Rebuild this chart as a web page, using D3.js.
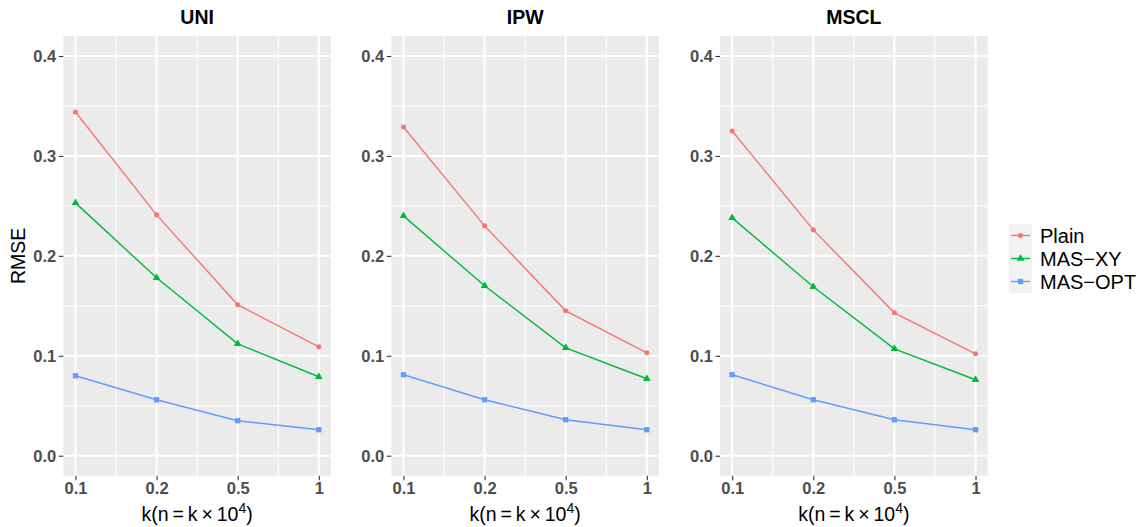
<!DOCTYPE html>
<html>
<head>
<meta charset="utf-8">
<script src="https://cdn.jsdelivr.net/npm/d3@7"></script>
<style>
  html, body { margin: 0; padding: 0; background: #ffffff; }
  svg { display: block; font-family: "Liberation Sans", Arial, Helvetica, sans-serif; }
</style>
</head>
<body>
<svg id="chart" width="1141" height="527"></svg>
<script>
// ---- data ----
const kLabels = ["0.1", "0.2", "0.5", "1"];
const panelTitles = ["UNI", "IPW", "MSCL"];
const seriesNames = ["Plain", "MAS\u2212XY", "MAS\u2212OPT"];
const seriesColors = ["#F8766D", "#00BA38", "#619CFF"];
const yTicks = [0.0, 0.1, 0.2, 0.3, 0.4];

const uniPlain  = [0.344, 0.241, 0.151, 0.109];
const uniMasXY  = [0.253, 0.178, 0.112, 0.079];
const uniMasOpt = [0.080, 0.056, 0.035, 0.026];

const ipwPlain  = [0.329, 0.230, 0.145, 0.103];
const ipwMasXY  = [0.240, 0.170, 0.108, 0.077];
const ipwMasOpt = [0.081, 0.056, 0.036, 0.026];

const msclPlain  = [0.325, 0.226, 0.143, 0.102];
const msclMasXY  = [0.238, 0.169, 0.107, 0.076];
const msclMasOpt = [0.081, 0.056, 0.036, 0.026];

const panelData = [
  [uniPlain, uniMasXY, uniMasOpt],
  [ipwPlain, ipwMasXY, ipwMasOpt],
  [msclPlain, msclMasXY, msclMasOpt]
];

// ---- layout ----
const svg = d3.select("#chart");
const panelLefts = [63.3, 391.3, 720];
const panelW = 267.7;
const panelTop = 36, panelBottom = 475.7;
const symbolTypes = [d3.symbolCircle, d3.symbolTriangle, d3.symbolSquare];
const symbolSizes = [20, 26, 28];

panelTitles.forEach((title, p) => {
  const left = panelLefts[p];
  const g = svg.append("g");
  const x = d3.scaleLinear().domain([0.85, 4.15]).range([left, left + panelW]);
  const y = d3.scaleLinear().domain([-0.02, 0.42]).range([panelBottom, panelTop]);

  g.append("rect").attr("x", left).attr("y", panelTop)
    .attr("width", panelW).attr("height", panelBottom - panelTop)
    .attr("fill", "#EBEBEB");

  const yMinor = [0.05, 0.15, 0.25, 0.35];
  const xMinor = [1.5, 2.5, 3.5];
  g.selectAll(".ymin").data(yMinor).join("line")
    .attr("x1", left).attr("x2", left + panelW)
    .attr("y1", d => y(d)).attr("y2", d => y(d))
    .attr("stroke", "#ffffff").attr("stroke-width", 1);
  g.selectAll(".xmin").data(xMinor).join("line")
    .attr("y1", panelTop).attr("y2", panelBottom)
    .attr("x1", d => x(d)).attr("x2", d => x(d))
    .attr("stroke", "#ffffff").attr("stroke-width", 1);
  g.selectAll(".ymaj").data(yTicks).join("line")
    .attr("x1", left).attr("x2", left + panelW)
    .attr("y1", d => y(d)).attr("y2", d => y(d))
    .attr("stroke", "#ffffff").attr("stroke-width", 2);
  g.selectAll(".xmaj").data(kLabels).join("line")
    .attr("y1", panelTop).attr("y2", panelBottom)
    .attr("x1", (d, i) => x(i + 1)).attr("x2", (d, i) => x(i + 1))
    .attr("stroke", "#ffffff").attr("stroke-width", 2);

  const yAxis = d3.axisLeft(y).tickValues(yTicks).tickFormat(d3.format(".1f"))
    .tickSize(4.5).tickPadding(2.5);
  const ya = g.append("g").attr("transform", `translate(${left},0)`).call(yAxis);
  ya.select(".domain").remove();
  ya.selectAll(".tick line").attr("stroke", "#333333").attr("stroke-width", 1.1);
  ya.selectAll(".tick text").attr("fill", "#4D4D4D").attr("font-size", "16.5px")
    .attr("font-weight", "bold").attr("font-family", "Liberation Sans, Arial, sans-serif")
    .attr("dy", "0.36em");

  const xAxis = d3.axisBottom(x).tickValues([1, 2, 3, 4])
    .tickFormat(d => kLabels[d - 1]).tickSize(4.5).tickPadding(2.5);
  const xa = g.append("g").attr("transform", `translate(0,${panelBottom})`).call(xAxis);
  xa.select(".domain").remove();
  xa.selectAll(".tick line").attr("stroke", "#333333").attr("stroke-width", 1.1);
  xa.selectAll(".tick text").attr("fill", "#4D4D4D").attr("font-size", "16.5px")
    .attr("font-weight", "bold").attr("font-family", "Liberation Sans, Arial, sans-serif")
    .attr("dy", "0.7em");

  const line = d3.line().x((d, i) => x(i + 1)).y(d => y(d));
  panelData[p].forEach((vals, s) => {
    g.append("path").datum(vals).attr("d", line)
      .attr("fill", "none").attr("stroke", seriesColors[s]).attr("stroke-width", 1.4);
    g.selectAll(".pt" + s).data(vals).join("path")
      .attr("transform", (d, i) => `translate(${x(i + 1)},${y(d)})`)
      .attr("d", d3.symbol().type(symbolTypes[s]).size(symbolSizes[s]))
      .attr("fill", seriesColors[s]);
  });

  svg.append("text").attr("x", left + panelW / 2).attr("y", 24)
    .attr("text-anchor", "middle").attr("font-size", "19.5px").attr("font-weight", "bold")
    .attr("fill", "#000000").text(title);

  const xt = svg.append("text").attr("x", left + panelW / 2).attr("y", 521)
    .attr("text-anchor", "middle").attr("font-size", "19.5px").attr("fill", "#000000");
  xt.append("tspan").text("k(n\u2009=\u2009k\u2009\u00D7\u200910");
  xt.append("tspan").attr("font-size", "14px").attr("dy", "-8").text("4");
  xt.append("tspan").attr("dy", "8").text(")");
});

// y axis title
svg.append("text")
  .attr("transform", `translate(25,${(panelTop + panelBottom) / 2}) rotate(-90)`)
  .attr("text-anchor", "middle").attr("font-size", "19.5px").attr("fill", "#000000")
  .text("RMSE");

// legend
const legX = 1009, legY = 224, keyW = 23, keyH = 23;
seriesNames.forEach((name, s) => {
  const cy = legY + s * keyH + keyH / 2;
  svg.append("rect").attr("x", legX).attr("y", legY + s * keyH)
    .attr("width", keyW).attr("height", keyH).attr("fill", "#F2F2F2");
  svg.append("line").attr("x1", legX + 2).attr("x2", legX + keyW - 2)
    .attr("y1", cy).attr("y2", cy)
    .attr("stroke", seriesColors[s]).attr("stroke-width", 1.4);
  svg.append("path").attr("transform", `translate(${legX + keyW / 2},${cy})`)
    .attr("d", d3.symbol().type(symbolTypes[s]).size(symbolSizes[s]))
    .attr("fill", seriesColors[s]);
  svg.append("text").attr("x", 1040).attr("y", cy).attr("dy", "0.36em")
    .attr("font-size", "20px").attr("fill", "#000000").text(name);
});
</script>
</body>
</html>
